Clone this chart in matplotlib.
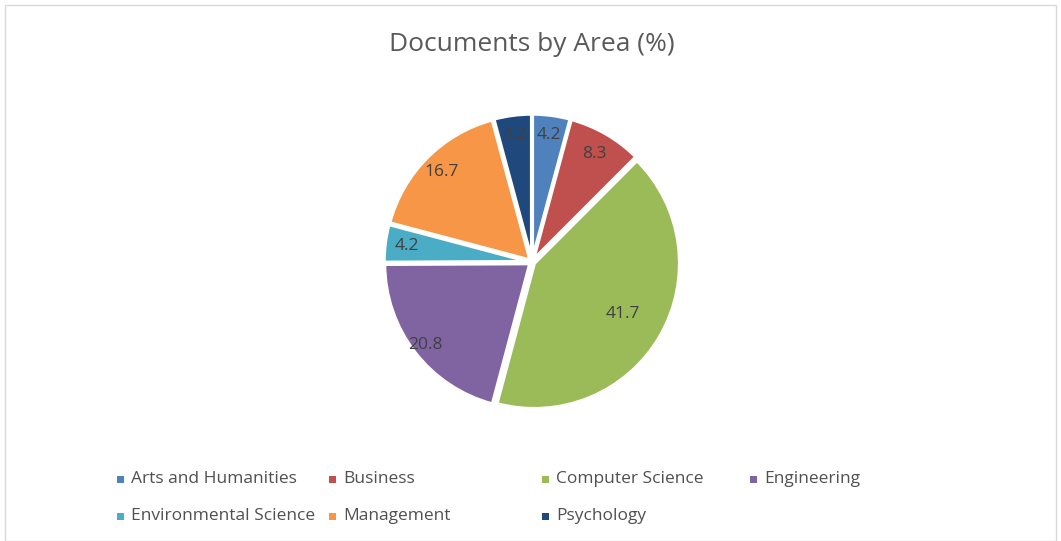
import matplotlib
matplotlib.use("Agg")
import numpy as np
import matplotlib.pyplot as plt
from matplotlib.patches import Rectangle

# data
areas = ["Arts and Humanities", "Business", "Computer Science", "Engineering",
         "Environmental Science", "Management", "Psychology"]
shares = [4.2, 8.3, 41.7, 20.8, 4.2, 16.7, 4.2]
colors = ["#4F81BD", "#C0504D", "#9BBB59", "#8064A2", "#4BACC6", "#F79646", "#1F497D"]

# label radius per slice (layout only)
label_r = [0.88, 0.86, 0.72, 0.93, 0.87, 0.88, 0.88]

W, H = 1061, 541
fig = plt.figure(figsize=(W / 100, H / 100), dpi=100)
plt.rcParams['font.family'] = ['Open Sans', 'DejaVu Sans']

# chart frame
fig.add_artist(Rectangle((5 / W, 0), (W - 10) / W, (H - 5) / H, transform=fig.transFigure,
                         fill=False, edgecolor="#d9d9d9", linewidth=1))

# pie axes centered at (532, 262) px, radius ~148 px
cx, cy, half = 532, 262, 150
ax = fig.add_axes([(cx - half) / W, (H - cy - half) / H, 2 * half / W, 2 * half / H])
wedges, _ = ax.pie(shares, colors=colors, startangle=90, counterclock=False,
                   explode=[0.018] * len(shares),
                   wedgeprops=dict(edgecolor="white", linewidth=2.5))
lim = 1.018 * half / 148
ax.set_xlim(-lim, lim)
ax.set_ylim(-lim, lim)
ax.set_aspect("equal")
ax.axis("off")

for w, val, r in zip(wedges, shares, label_r):
    ang = np.deg2rad((w.theta1 + w.theta2) / 2)
    ax.text(r * np.cos(ang), r * np.sin(ang), f"{val:.1f}", ha="center", va="center",
            fontsize=12.5, color="#404040")

fig.text(cx / W, 1 - 45 / H, "Documents by Area (%)", ha="center", va="center",
         fontsize=19, color="#595959")

# legend laid out like the Excel one: 4 columns, 2 rows
col_x = [120, 332, 545, 753]
row_y = [479, 516]
for i, (name, c) in enumerate(zip(areas, colors)):
    x = col_x[i % 4]
    y = row_y[i // 4]
    fig.add_artist(Rectangle(((x - 3.5) / W, (H - y - 3.5) / H), 7 / W, 7 / H,
                             transform=fig.transFigure, facecolor=c, edgecolor="none"))
    fig.text((x + 11) / W, 1 - y / H, name, ha="left", va="center",
             fontsize=12.5, color="#505050")

fig.savefig("out.png", dpi=100)
